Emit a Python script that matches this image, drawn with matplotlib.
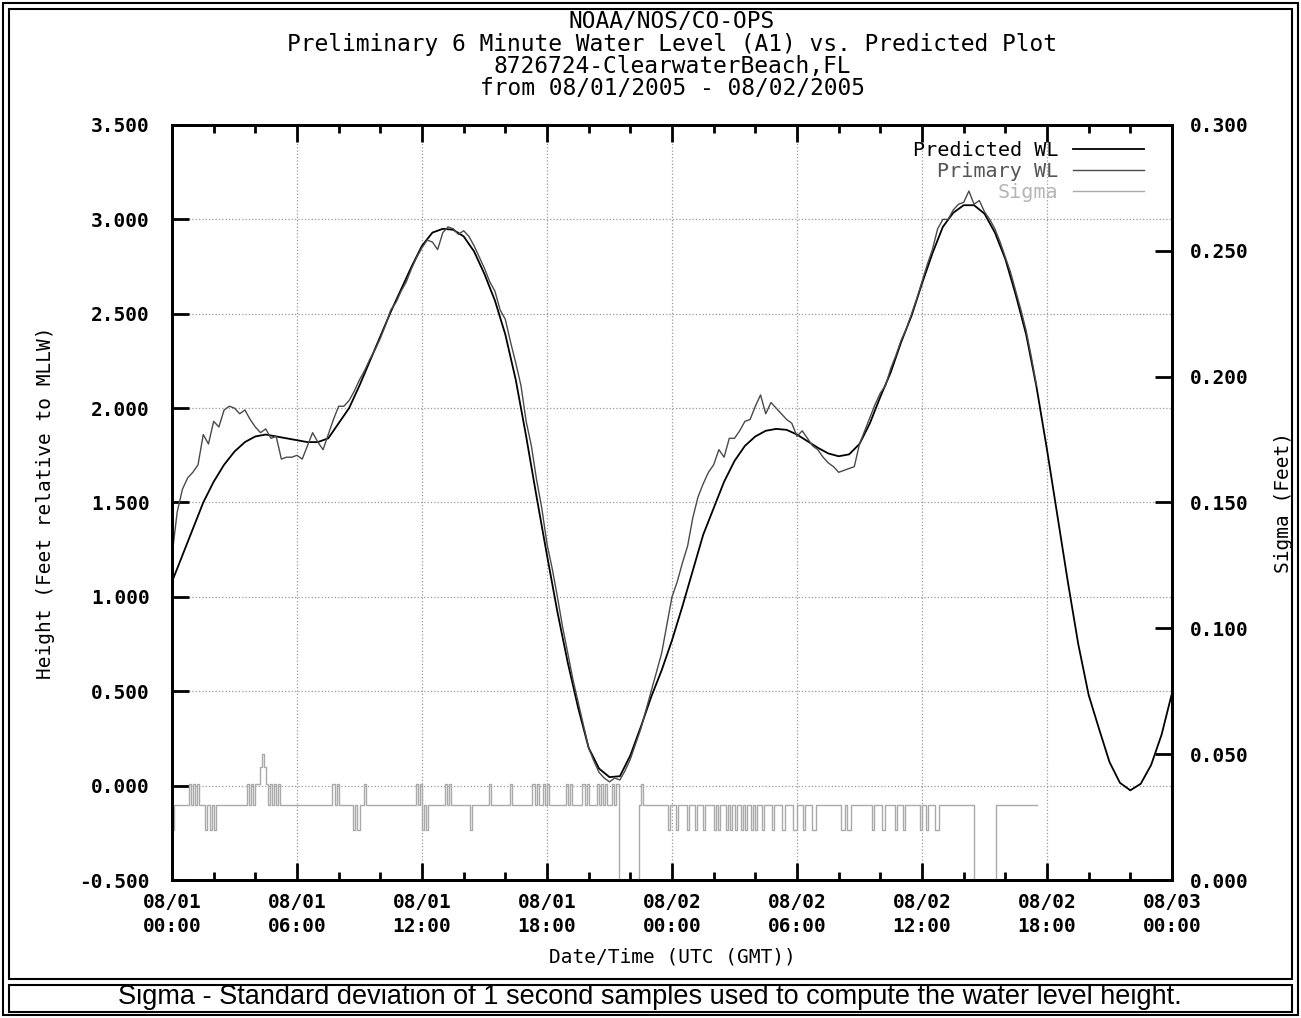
import numpy as np
import pandas as pd
import matplotlib
matplotlib.use("Agg")
import matplotlib.pyplot as plt
import matplotlib.dates as mdates
from matplotlib.patches import Rectangle
from matplotlib.ticker import MultipleLocator, FormatStrFormatter


# Data (hours after 2005-08-01 00:00 UTC)

pred_hours = np.arange(0, 48.01, 0.5)
predicted_wl = [
    1.08, 1.22, 1.36, 1.50, 1.61, 1.70, 1.77, 1.82,
    1.85, 1.86, 1.85, 1.84, 1.83, 1.82, 1.82, 1.84,
    1.92, 2.00, 2.12, 2.25, 2.38, 2.51, 2.63, 2.75,
    2.86, 2.93, 2.95, 2.945, 2.91, 2.83, 2.71, 2.57,
    2.39, 2.15, 1.85, 1.53, 1.22, 0.92, 0.65, 0.41,
    0.20, 0.09, 0.045, 0.05, 0.16, 0.31, 0.47, 0.61,
    0.77, 0.95, 1.14, 1.33, 1.47, 1.61, 1.72, 1.80,
    1.85, 1.88, 1.89, 1.885, 1.86, 1.825, 1.79, 1.76,
    1.745, 1.755, 1.81, 1.92, 2.06, 2.19, 2.35, 2.49,
    2.66, 2.82, 2.96, 3.035, 3.075, 3.075, 3.03, 2.93,
    2.79, 2.60, 2.39, 2.11, 1.78, 1.43, 1.08, 0.75,
    0.48, 0.30, 0.125, 0.015, -0.025, 0.01, 0.11, 0.27,
    0.49,
]

prim_hours = np.arange(0, 41.51, 0.25)
primary_wl = [
    1.22, 1.45, 1.57, 1.63,   1.66, 1.70, 1.86, 1.81,
    1.93, 1.90, 1.99, 2.01,   2.00, 1.97, 1.99, 1.94,
    1.90, 1.87, 1.89, 1.84,   1.85, 1.73, 1.74, 1.74,
    1.75, 1.73, 1.80, 1.87,   1.82, 1.78, 1.86, 1.94,
    2.01, 2.01, 2.04, 2.09,   2.15, 2.20, 2.26, 2.31,
    2.37, 2.44, 2.52, 2.56,   2.62, 2.67, 2.74, 2.80,
    2.85, 2.89, 2.88, 2.84,   2.93, 2.96, 2.95, 2.92,
    2.94, 2.91, 2.86, 2.80,   2.74, 2.67, 2.62, 2.52,
    2.47, 2.35, 2.24, 2.12,   1.93, 1.80, 1.62, 1.47,
    1.28, 1.15, 1.00, 0.84,   0.70, 0.56, 0.44, 0.32,
    0.20, 0.13, 0.07, 0.04,   0.02, 0.04, 0.03, 0.08,
    0.14, 0.22, 0.30, 0.40,   0.50, 0.60, 0.70, 0.85,
    1.00, 1.08, 1.18, 1.27,   1.42, 1.53, 1.60, 1.66,
    1.70, 1.78, 1.74, 1.84,   1.84, 1.88, 1.93, 1.94,
    2.01, 2.07, 1.97, 2.03,   2.00, 1.97, 1.94, 1.92,
    1.85, 1.88, 1.84, 1.80,   1.78, 1.74, 1.71, 1.69,
    1.66, 1.67, 1.68, 1.69,   1.81, 1.88, 1.95, 2.02,
    2.08, 2.12, 2.21, 2.28,   2.36, 2.42, 2.50, 2.58,
    2.67, 2.76, 2.84, 2.95,   3.00, 3.00, 3.05, 3.08,
    3.09, 3.15, 3.08, 3.10,   3.04, 3.00, 2.95, 2.88,
    2.80, 2.72, 2.62, 2.52,   2.41, 2.27, 2.12,
]

# sigma: step changes (hour where a new value starts)
sigma_hours = [
    0.0, 0.1, 0.8, 0.9, 1.0, 1.1, 1.2, 1.3, 1.6, 1.7, 1.8, 1.9, 2.0, 2.1,
    3.6, 3.7, 3.8, 3.9, 4.0, 4.2, 4.3, 4.4, 4.5, 4.6, 4.7, 4.8, 4.9, 5.0, 5.1, 5.2,
    7.7, 7.8, 7.9, 8.0, 8.7, 8.8, 8.9, 9.0, 9.2, 9.3,
    11.7, 11.8, 11.9, 12.0, 12.1, 12.2, 12.3,
    13.1, 13.2, 13.3, 13.4, 14.3, 14.4, 15.2, 15.3, 16.2, 16.3,
    17.3, 17.4, 17.5, 17.6, 17.8, 17.9, 18.0, 18.1,
    18.9, 19.0, 19.1, 19.2, 19.7, 19.8, 19.9, 20.0,
    20.4, 20.5, 20.6, 20.7, 20.8, 20.9, 21.1, 21.2, 21.3,
    21.45, 22.4, 22.5, 22.6,
    23.8, 23.9, 24.2, 24.3, 24.7, 24.8, 25.1, 25.2, 25.5, 25.6,
    26.0, 26.1, 26.2, 26.3, 26.6, 26.7, 26.8, 26.9, 27.0, 27.1,
    27.3, 27.4, 27.5, 27.6, 27.8, 27.9, 28.0, 28.1, 28.3, 28.4,
    28.8, 28.9, 29.3, 29.4, 29.8, 30.0, 30.3, 30.4, 30.7, 30.9,
    32.1, 32.3, 32.4, 32.6, 32.7, 33.6, 33.7, 34.1, 34.2, 34.7, 34.8, 35.1, 35.2,
    35.9, 36.0, 36.2, 36.3, 36.6, 36.8,
    38.5, 39.55, 39.7, 41.5,
]
sigma_ft = [
    0.02, 0.03, 0.038, 0.03, 0.038, 0.03, 0.038, 0.03, 0.02, 0.03, 0.02, 0.03, 0.02, 0.03,
    0.038, 0.03, 0.038, 0.03, 0.038, 0.045, 0.05, 0.045, 0.038, 0.03, 0.038, 0.03, 0.038, 0.03, 0.038, 0.03,
    0.038, 0.03, 0.038, 0.03, 0.02, 0.03, 0.02, 0.03, 0.038, 0.03,
    0.038, 0.03, 0.038, 0.02, 0.03, 0.02, 0.03,
    0.038, 0.03, 0.038, 0.03, 0.02, 0.03, 0.038, 0.03, 0.038, 0.03,
    0.038, 0.03, 0.038, 0.03, 0.038, 0.03, 0.038, 0.03,
    0.038, 0.03, 0.038, 0.03, 0.038, 0.03, 0.038, 0.03,
    0.038, 0.03, 0.038, 0.03, 0.038, 0.03, 0.038, 0.03, 0.038,
    0.0, 0.03, 0.038, 0.03,
    0.02, 0.03, 0.02, 0.03, 0.02, 0.03, 0.02, 0.03, 0.02, 0.03,
    0.02, 0.03, 0.02, 0.03, 0.02, 0.03, 0.02, 0.03, 0.02, 0.03,
    0.02, 0.03, 0.02, 0.03, 0.02, 0.03, 0.02, 0.03, 0.02, 0.03,
    0.02, 0.03, 0.02, 0.03, 0.02, 0.03, 0.02, 0.03, 0.02, 0.03,
    0.02, 0.03, 0.02, 0.03, 0.03, 0.02, 0.03, 0.02, 0.03, 0.02, 0.03, 0.02, 0.03,
    0.02, 0.03, 0.02, 0.03, 0.02, 0.03,
    0.0, 0.03, 0.03, 0.03,
]

title_lines = [
    "NOAA/NOS/CO-OPS",
    "Preliminary 6 Minute Water Level (A1) vs. Predicted Plot",
    "8726724-ClearwaterBeach,FL",
    "from 08/01/2005 - 08/02/2005",
]
caption = "Sigma - Standard deviation of 1 second samples used to compute the water level height."


# Times

start = pd.Timestamp("2005-08-01 00:00")
t_pred = start + pd.to_timedelta(pred_hours, unit="h")
t_prim = start + pd.to_timedelta(prim_hours, unit="h")
t_sig = start + pd.to_timedelta(np.array(sigma_hours), unit="h")

mono = "DejaVu Sans Mono"
W, H = 1301, 1018

fig = plt.figure(figsize=(W / 100, H / 100), dpi=100)
fig.patch.set_facecolor("white")

ax = fig.add_axes([172 / W, 138 / H, 1000 / W, 755 / H])
ax2 = ax.twinx()

ax.plot(t_pred, predicted_wl, color="black", lw=1.3, label="Predicted WL")
ax.plot(t_prim, primary_wl, color="#4a4a4a", lw=1.0, label="Primary WL")
ax2.plot(t_sig, sigma_ft, color="#aaaaaa", lw=1.0, drawstyle="steps-post", label="Sigma")

ax.set_xlim(start, start + pd.Timedelta(hours=48))
ax.set_ylim(-0.5, 3.5)
ax2.set_ylim(0, 0.3)

ax.xaxis.set_major_locator(mdates.HourLocator(byhour=[0, 6, 12, 18]))
ax.xaxis.set_minor_locator(mdates.HourLocator(byhour=range(0, 24, 2)))
ax.xaxis.set_major_formatter(mdates.DateFormatter("%m/%d\n%H:%M"))
ax.yaxis.set_major_locator(MultipleLocator(0.5))
ax.yaxis.set_major_formatter(FormatStrFormatter("%.3f"))
ax2.yaxis.set_major_locator(MultipleLocator(0.05))
ax2.yaxis.set_major_formatter(FormatStrFormatter("%.3f"))

ax.grid(True, which="major", linestyle=":", color="#999999", lw=0.9)

ax.tick_params(axis="x", which="major", direction="in", length=12, width=2,
               top=True, pad=9, labelsize=14)
ax.tick_params(axis="x", which="minor", direction="in", length=6, width=2, top=True)
ax.tick_params(axis="y", which="major", direction="in", length=12, width=2,
               pad=16, labelsize=14)
ax2.tick_params(axis="y", direction="in", length=12, width=2, pad=13, labelsize=14)

for a in (ax, ax2):
    for s in a.spines.values():
        s.set_linewidth(2)
    for lab in a.get_xticklabels() + a.get_yticklabels():
        lab.set_family(mono)
        lab.set_fontweight("bold")
for lab in ax.get_xticklabels():
    lab.set_linespacing(1.35)

ax.set_xlabel("Date/Time (UTC (GMT))", family=mono, fontsize=14)
ax.set_ylabel("Height (Feet relative to MLLW)", family=mono, fontsize=14)
ax2.set_ylabel("Sigma (Feet)", family=mono, fontsize=14)
ax.xaxis.set_label_coords(0.5, -0.09)
ax.yaxis.set_label_coords(-0.117, 0.5)
ax2.yaxis.set_label_coords(1.102, 0.5)

for i, line in enumerate(title_lines):
    fig.text(672 / W, 1 - (22 + 22.3 * i) / H, line, family=mono, fontsize=16.5,
             ha="center", va="center")

# legend: text first, line sample after
h1, l1 = ax.get_legend_handles_labels()
h2, l2 = ax2.get_legend_handles_labels()
leg = ax2.legend(h1 + h2, l1 + l2, loc="upper right", frameon=False,
                 markerfirst=False, handlelength=3.5, handletextpad=0.75,
                 labelspacing=0.12, borderaxespad=0.0,
                 bbox_to_anchor=(0.98, 0.99),
                 prop={"family": mono, "size": 14.5})
for txt, c in zip(leg.get_texts(), ["black", "#555555", "#b5b5b5"]):
    txt.set_color(c)

# border boxes
def box(x0, y0, x1, y1, lw):
    fig.add_artist(Rectangle((x0 / W, 1 - y1 / H), (x1 - x0) / W, (y1 - y0) / H,
                             transform=fig.transFigure, fill=False,
                             edgecolor="black", lw=lw))

box(3, 3, 1298, 1015, 1.5)
box(9, 9, 1292, 979, 1.5)
box(9, 985, 1292, 1012, 1.5)

fig.text(650 / W, 1 - 997 / H, caption, family="Liberation Sans", fontsize=19.5,
         ha="center", va="center")

fig.savefig("out.png", dpi=100)
